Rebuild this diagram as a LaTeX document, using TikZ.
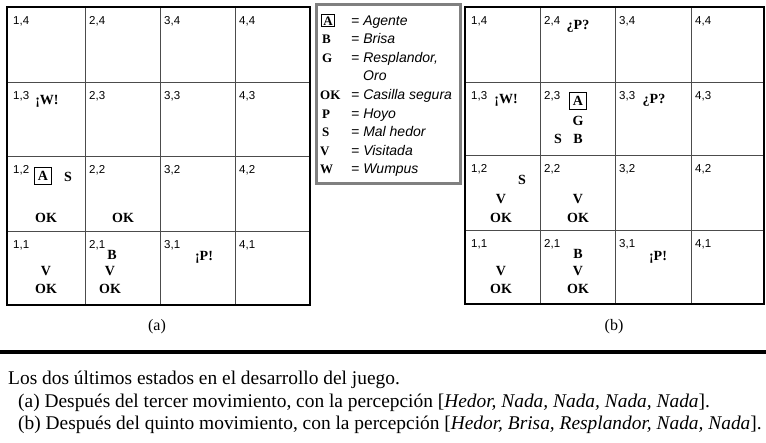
\documentclass[tikz,border=0pt]{standalone}
\usepackage{fontspec}
\setmainfont{Liberation Serif}
\setsansfont{Liberation Sans}

\tikzset{
    num/.style={anchor=base west, inner sep=0pt, font=\sffamily\fontsize{11.5}{11.5}\selectfont},
    sym/.style={inner sep=0pt, font=\bfseries\fontsize{14}{14}\selectfont},
    agent/.style={sym, draw, line width=1.8pt, minimum size=17pt},
    frame/.style={line width=2.6pt},
    cell/.style={line width=0.8pt, black!70},
    legsym/.style={anchor=base west, inner sep=0pt, font=\bfseries\fontsize{13}{13}\selectfont},
    legtext/.style={anchor=base west, inner sep=0pt, font=\sffamily\itshape\fontsize{14}{14}\selectfont},
    captext/.style={anchor=west, inner sep=0pt, font=\fontsize{19.4}{19.4}\selectfont}
}

\begin{document}
\begin{tikzpicture}[x=1pt, y=-1pt]
    \useasboundingbox (0,0) rectangle (766,442);

    \foreach \x in {85,160,235} \draw[cell] (\x,7) -- (\x,305);
    \foreach \y in {82,156,231} \draw[cell] (7,\y) -- (310,\y);
    \draw[frame] (7,7) rectangle (310,305);
    \foreach \c/\x in {1/9,2/85,3/160,4/235}
        \foreach \r/\y in {4/7,3/82,2/156,1/231}
            \node[num] (a\c\r) at (\x+4,\y+17) {\c,\r};

    \node[sym] (aw) at (47,101) {¡W!};
    \node[agent] (aagent) at (43,176) {A};
    \node[sym] (as) at (68,177) {S};
    \node[sym] (aok12) at (46,218) {OK};
    \node[sym] (aok22) at (123,218) {OK};
    \node[sym] (av11) at (46,271) {V};
    \node[sym] (aok11) at (46,289) {OK};
    \node[sym] (ab21) at (112,255) {B};
    \node[sym] (av21) at (110,271) {V};
    \node[sym] (aok21) at (110,289) {OK};
    \node[sym] (ap) at (204,257) {¡P!};
    \node[font=\fontsize{16}{16}\selectfont] (capa) at (157,327) {(a)};

    \draw[line width=3pt, black!50] (316,4) rectangle (460,183);
    \node[legsym, draw, line width=1.3pt, inner sep=1.8pt] (la) at (321,25) {A};
    \node[legtext] (ta) at (351,25) {= Agente};
    \node[legsym] (lb) at (322,43) {B};
    \node[legtext] (tb) at (351,43) {= Brisa};
    \node[legsym] (lg) at (322,62) {G};
    \node[legtext] (tg) at (351,62) {= Resplandor,};
    \node[legtext] (tg2) at (363,80) {Oro};
    \node[legsym] (lok) at (320,99) {OK};
    \node[legtext] (tok) at (351,99) {= Casilla segura};
    \node[legsym] (lp) at (322,118) {P};
    \node[legtext] (tp) at (351,118) {= Hoyo};
    \node[legsym] (ls) at (322,136) {S};
    \node[legtext] (ts) at (351,136) {= Mal hedor};
    \node[legsym] (lv) at (320,155) {V};
    \node[legtext] (tv) at (351,155) {= Visitada};
    \node[legsym] (lw) at (320,173) {W};
    \node[legtext] (tw) at (351,173) {= Wumpus};

    \foreach \x in {540,615,691} \draw[cell] (\x,7) -- (\x,304);
    \foreach \y in {82,155,230} \draw[cell] (465,\y) -- (764,\y);
    \draw[frame] (465,7) rectangle (764,304);
    \foreach \c/\x in {1/467,2/540,3/615,4/691}
        \foreach \r/\y in {4/7,3/82,2/155,1/230}
            \node[num] (b\c\r) at (\x+4,\y+17) {\c,\r};

    \node[sym] (bp24) at (578,26) {¿P?};
    \node[sym] (bw) at (506,100) {¡W!};
    \node[agent] (bagent) at (578,101) {A};
    \node[sym] (bg) at (578,121) {G};
    \node[sym] (bs23) at (558,139) {S};
    \node[sym] (bb23) at (578,139) {B};
    \node[sym] (bp33) at (654,100) {¿P?};
    \node[sym] (bs12) at (522,180) {S};
    \node[sym] (bv12) at (501,199) {V};
    \node[sym] (bok12) at (501,218) {OK};
    \node[sym] (bv22) at (578,199) {V};
    \node[sym] (bok22) at (578,218) {OK};
    \node[sym] (bv11) at (501,271) {V};
    \node[sym] (bok11) at (501,289) {OK};
    \node[sym] (bb21) at (578,254) {B};
    \node[sym] (bv21) at (578,271) {V};
    \node[sym] (bok21) at (578,289) {OK};
    \node[sym] (bp31) at (658,257) {¡P!};
    \node[font=\fontsize{16}{16}\selectfont] (capb) at (614,327) {(b)};

    \coordinate (rulel) at (0,352);
    \coordinate (ruler) at (766,352);
    \draw[line width=4pt] (rulel) -- (ruler);
    \node[captext] (line1) at (8,380) {Los dos últimos estados en el desarrollo del juego.};
    \node[captext] (line2) at (18,403) {(a) Después del tercer movimiento, con la percepción [\textit{Hedor, Nada, Nada, Nada, Nada}].};
    \node[captext] (line3) at (18,425) {(b) Después del quinto movimiento, con la percepción [\textit{Hedor, Brisa, Resplandor, Nada, Nada}].};
\end{tikzpicture}
\end{document}
